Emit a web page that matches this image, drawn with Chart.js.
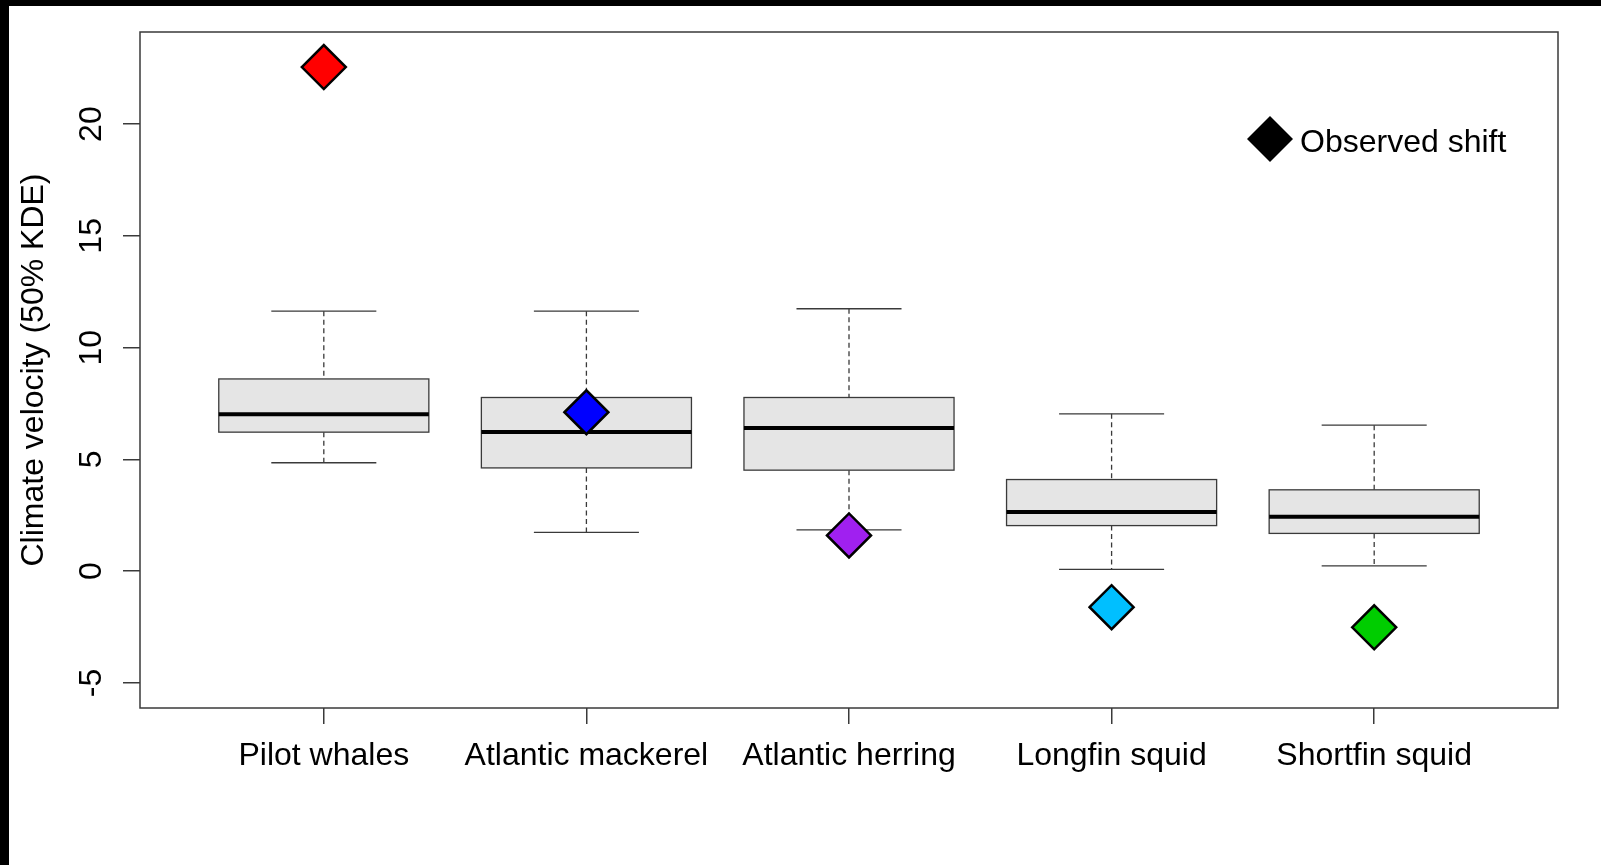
<!DOCTYPE html>
<html>
<head>
<meta charset="utf-8">
<script src="https://cdn.jsdelivr.net/npm/chart.js@4/dist/chart.umd.min.js"></script>
<style>
  html, body { margin: 0; padding: 0; background: #000; width: 1601px; height: 865px; overflow: hidden; }
  #wrap { position: absolute; left: 9px; top: 6px; width: 1592px; height: 859px; background: #fff; }
</style>
</head>
<body>
<div id="wrap"><canvas id="c"></canvas></div>
<script>
// Climate velocity distributions (50% KDE) per species, with the observed shift
const categories   = ['Pilot whales', 'Atlantic mackerel', 'Atlantic herring', 'Longfin squid', 'Shortfin squid'];
const whiskerLow   = [4.85, 1.74, 1.85, 0.08, 0.24];
const lowerQuart   = [6.22, 4.62, 4.52, 2.04, 1.69];
const medians      = [7.02, 6.23, 6.41, 2.65, 2.43];
const upperQuart   = [8.60, 7.77, 7.77, 4.10, 3.64];
const whiskerHigh  = [11.63, 11.63, 11.74, 7.04, 6.53];
const observedShift = [22.55, 7.11, 1.60, -1.61, -2.51];
const yTicks  = [-5, 0, 5, 10, 15, 20];
const yLimits = [-5, 23];

const shiftColors = ['#FF0000', '#0000FF', '#A020F0', '#00BFFF', '#00CD00'];

const FONT = "'Liberation Sans', Arial, Helvetica, sans-serif";
const LINE = '#3a3a3a';
const BOX_WIDTH = 0.8;

// axis range padded by 4% on each side
const ySpan = yLimits[1] - yLimits[0];
const yMin = yLimits[0] - 0.04 * ySpan;
const yMax = yLimits[1] + 0.04 * ySpan;
const xSpan = categories.length;
const xMin = 0.5 - 0.04 * xSpan;
const xMax = categories.length + 0.5 + 0.04 * xSpan;

const boxPlugin = {
  id: 'boxes',
  beforeDatasetsDraw(chart) {
    const { ctx, chartArea: a, scales: { x, y } } = chart;
    ctx.save();
    ctx.strokeStyle = LINE;
    ctx.lineWidth = 1.5;
    ctx.strokeRect(a.left, a.top, a.right - a.left, a.bottom - a.top);

    categories.forEach((c, i) => {
      const cx = x.getPixelForValue(i + 1);
      const halfW = x.getPixelForValue(i + 1 + BOX_WIDTH / 2) - cx;
      const yLo = y.getPixelForValue(whiskerLow[i]);
      const yQ1 = y.getPixelForValue(lowerQuart[i]);
      const yMed = y.getPixelForValue(medians[i]);
      const yQ3 = y.getPixelForValue(upperQuart[i]);
      const yHi = y.getPixelForValue(whiskerHigh[i]);

      // dashed whiskers
      ctx.strokeStyle = LINE;
      ctx.lineWidth = 1.3;
      ctx.setLineDash([5, 3.5]);
      ctx.beginPath();
      ctx.moveTo(cx, yHi); ctx.lineTo(cx, yQ3);
      ctx.moveTo(cx, yQ1); ctx.lineTo(cx, yLo);
      ctx.stroke();
      ctx.setLineDash([]);

      // staples
      ctx.beginPath();
      ctx.moveTo(cx - halfW / 2, yHi); ctx.lineTo(cx + halfW / 2, yHi);
      ctx.moveTo(cx - halfW / 2, yLo); ctx.lineTo(cx + halfW / 2, yLo);
      ctx.stroke();

      // interquartile box
      ctx.fillStyle = '#E5E5E5';
      ctx.fillRect(cx - halfW, yQ3, 2 * halfW, yQ1 - yQ3);
      ctx.strokeRect(cx - halfW, yQ3, 2 * halfW, yQ1 - yQ3);

      // median
      ctx.strokeStyle = '#000';
      ctx.lineWidth = 4;
      ctx.beginPath();
      ctx.moveTo(cx - halfW, yMed); ctx.lineTo(cx + halfW, yMed);
      ctx.stroke();
    });
    ctx.restore();
  }
};

const legendPlugin = {
  id: 'shiftLegend',
  afterDraw(chart) {
    const { ctx, chartArea: a } = chart;
    const mx = a.right - 288, my = a.top + 107, r = 23;
    ctx.save();
    ctx.fillStyle = '#000';
    ctx.beginPath();
    ctx.moveTo(mx - r, my); ctx.lineTo(mx, my - r);
    ctx.lineTo(mx + r, my); ctx.lineTo(mx, my + r);
    ctx.closePath();
    ctx.fill();
    ctx.font = '32px ' + FONT;
    ctx.textAlign = 'left';
    ctx.textBaseline = 'alphabetic';
    ctx.fillText('Observed shift', a.right - 258, a.top + 120);
    ctx.restore();
  }
};

new Chart(document.getElementById('c'), {
  type: 'scatter',
  data: {
    datasets: [{
      label: 'Observed shift',
      data: observedShift.map((v, i) => ({ x: i + 1, y: v })),
      pointStyle: 'rectRot',
      pointRadius: 22,
      pointHoverRadius: 22,
      pointBackgroundColor: shiftColors,
      pointBorderColor: '#000',
      pointBorderWidth: 2.5
    }]
  },
  options: {
    responsive: true,
    maintainAspectRatio: false,
    animation: false,
    events: [],
    layout: { padding: { top: 26, right: 43, left: 0, bottom: 0 } },
    plugins: { legend: { display: false }, tooltip: { enabled: false } },
    scales: {
      x: {
        type: 'linear',
        min: xMin,
        max: xMax,
        afterBuildTicks: s => { s.ticks = categories.map((c, i) => ({ value: i + 1 })); },
        afterFit: s => { s.height = 157; s.paddingLeft = 0; s.paddingRight = 0; },
        border: { display: false },
        grid: { drawOnChartArea: false, drawTicks: true, tickLength: 16, color: LINE, lineWidth: 1.5 },
        ticks: {
          font: { family: FONT, size: 32 },
          color: '#000',
          padding: 13,
          maxRotation: 0,
          autoSkip: false,
          callback: v => categories[v - 1]
        }
      },
      y: {
        min: yMin,
        max: yMax,
        afterBuildTicks: s => { s.ticks = yTicks.map(v => ({ value: v })); },
        afterFit: s => { s.width = 131; s.paddingTop = 0; s.paddingBottom = 0; },
        border: { display: false },
        grid: { drawOnChartArea: false, drawTicks: true, tickLength: 17, color: LINE, lineWidth: 1.5 },
        ticks: {
          font: { family: FONT, size: 32 },
          color: '#000',
          padding: 13,
          minRotation: 90,
          maxRotation: 90,
          crossAlign: 'center',
          autoSkip: false,
          callback: v => String(v)
        },
        title: {
          display: true,
          text: 'Climate velocity (50% KDE)',
          font: { family: FONT, size: 32 },
          color: '#000',
          padding: { top: 6, bottom: 0 }
        }
      }
    }
  },
  plugins: [boxPlugin, legendPlugin]
});
</script>
</body>
</html>
